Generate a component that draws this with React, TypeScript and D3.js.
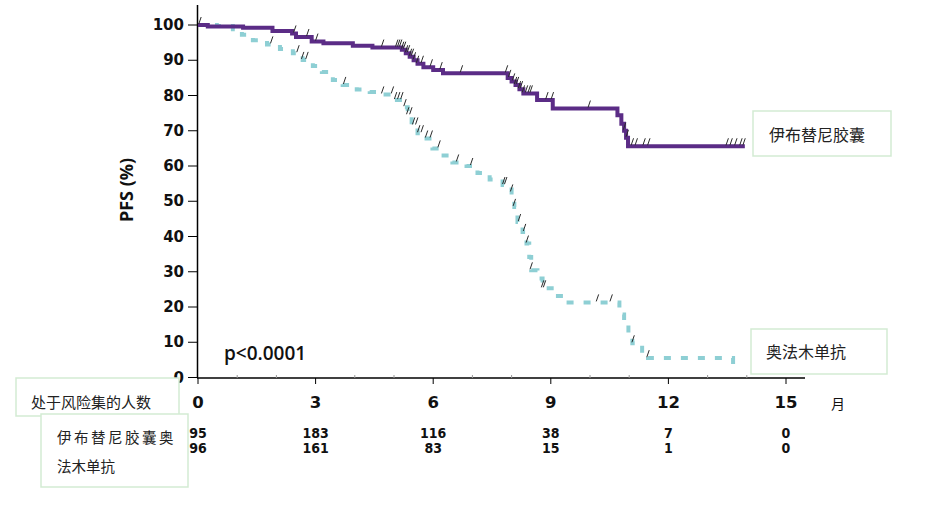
import React from "react";
import * as d3 from "d3";

// Kaplan-Meier steps: [month, PFS %]
const ibrutinibSteps: [number, number][] = [
  [0, 100], [0.25, 99.6], [1.15, 99.2], [1.9, 98.3], [2.4, 97.6], [2.5, 96.6], [2.9, 95.3],
  [3.2, 94.8], [3.95, 94.1], [4.45, 93.6], [5.2, 93.0], [5.3, 92.0], [5.4, 91.0], [5.5, 90.0],
  [5.6, 89.0], [5.75, 88.0], [6.0, 87.2], [6.25, 86.3], [7.9, 85.0], [8.0, 84.0], [8.1, 83.0],
  [8.2, 81.8], [8.3, 80.6], [8.65, 78.7], [9.05, 76.3], [10.7, 74.4], [10.8, 72.0], [10.87, 70.0],
  [10.92, 68.0], [10.97, 65.6], [13.95, 65.6],
];
const ofatumumabSteps: [number, number][] = [
  [0, 100], [0.48, 99.7], [0.89, 98.8], [1.12, 97.2], [1.4, 95.7], [1.76, 94.5], [2.09, 93.2],
  [2.42, 92.0], [2.67, 90.1], [2.93, 88.4], [3.16, 86.7], [3.44, 84.4], [3.69, 83.0], [4.05, 81.7],
  [4.38, 81.0], [4.71, 80.3], [5.02, 78.7], [5.27, 76.7], [5.35, 74.4], [5.45, 71.5], [5.6, 69.3],
  [5.83, 67.8], [5.98, 65.0], [6.16, 63.0], [6.49, 61.0], [6.85, 60.0], [7.13, 58.0], [7.44, 56.2],
  [7.77, 54.6], [8.0, 52.5], [8.07, 48.4], [8.15, 44.1], [8.28, 41.3], [8.38, 38.0], [8.45, 34.2],
  [8.5, 30.4], [8.66, 28.1], [8.79, 25.3], [9.09, 23.1], [9.4, 21.3], [10.75, 17.9], [10.87, 14.8],
  [10.98, 11.6], [11.08, 9.7], [11.33, 6.8], [11.48, 5.5], [13.65, 2.0],
];
// censored observation times (months)
const ibrutinibCensors = [
  0.05, 2.47, 2.8, 3.03, 4.71, 5.07, 5.12, 5.17, 5.22, 5.27, 5.32, 5.37, 5.42, 5.47, 5.52, 5.6,
  5.72, 5.95, 6.2, 6.72, 7.87, 7.95, 8.05, 8.1, 8.15, 8.2, 8.25, 8.3, 8.38, 8.45, 8.5, 8.9, 9.04,
  9.98, 10.88, 10.95, 11.08, 11.18, 11.38, 11.5, 13.5, 13.6, 13.72, 13.85, 13.93,
];
const ofatumumabCensors = [
  1.88, 2.55, 2.67, 2.78, 3.74, 4.71, 4.96, 5.04, 5.12, 5.2, 5.28, 5.35, 5.43, 5.5, 5.58, 5.63,
  5.72, 5.83, 5.95, 6.15, 6.62, 6.98, 7.8, 7.85, 8.0, 8.07, 8.2, 8.33, 8.4, 8.5, 8.79, 8.84,
  10.19, 10.54, 11.1, 11.48,
];
const xTicks = [0, 3, 6, 9, 12, 15];
const yTicks = [0, 10, 20, 30, 40, 50, 60, 70, 80, 90, 100];
const riskIbrutinib = [95, 183, 116, 38, 7, 0];
const riskOfatumumab = [96, 161, 83, 15, 1, 0];

const PURPLE = "#5b2c86";
const TEAL = "#8ecfd4";
const BOX = "#d3ebd3";
const NARROW = "'DejaVu Sans Condensed', 'DejaVu Sans', sans-serif";

function levelAt(steps: [number, number][], t: number) {
  let v = steps[0][1];
  for (const [s, val] of steps) if (s <= t) v = val;
  return v;
}

export default function App() {
  const x = d3.scaleLinear().domain([0, 15]).range([198, 786]);
  const y = d3.scaleLinear().domain([0, 100]).range([377.5, 25]);
  const line = d3
    .line<[number, number]>()
    .x((d) => x(d[0]))
    .y((d) => y(d[1]))
    .curve(d3.curveStepAfter);
  const minor = d3.range(0, 16, 1).filter((m) => m % 3 !== 0);

  const censor = (steps: [number, number][], ts: number[], key: string) =>
    ts.map((t, i) => {
      const cx = x(t);
      const cy = y(levelAt(steps, t));
      return (
        <line key={key + i} x1={cx - 1.2} y1={cy - 1} x2={cx + 1.2} y2={cy - 8} stroke="#2a2a2a" strokeWidth={1} />
      );
    });

  return (
    <svg width={942} height={512} style={{ position: "absolute", left: 0, top: 0, background: "#fff" }}>
      {/* axes */}
      <line x1={197.5} y1={5} x2={197.5} y2={378} stroke="#000" strokeWidth={1.5} />
      <line x1={197} y1={378} x2={805} y2={378} stroke="#000" strokeWidth={1.5} />
      {yTicks.map((v) => (
        <g key={"y" + v}>
          <line x1={188} x2={197} y1={y(v)} y2={y(v)} stroke="#000" strokeWidth={1} />
          <text x={184} y={y(v)} textAnchor="end" dominantBaseline="central" fontFamily="DejaVu Sans" fontWeight="bold" fontSize={15} fill="#111">
            {v}
          </text>
        </g>
      ))}
      {xTicks.map((v, i) => (
        <g key={"x" + v}>
          <line x1={x(v)} x2={x(v)} y1={378} y2={384} stroke="#000" strokeWidth={1} />
          <text x={x(v)} y={402} textAnchor="middle" dominantBaseline="central" fontFamily="DejaVu Sans" fontWeight="bold" fontSize={16.5} fill="#111">
            {v}
          </text>
          <text x={x(v)} y={433} textAnchor="middle" dominantBaseline="central" fontFamily={NARROW} fontWeight="bold" fontSize={14} fill="#111">
            {riskIbrutinib[i]}
          </text>
          <text x={x(v)} y={448} textAnchor="middle" dominantBaseline="central" fontFamily={NARROW} fontWeight="bold" fontSize={14} fill="#111">
            {riskOfatumumab[i]}
          </text>
        </g>
      ))}
      {minor.map((m) => (
        <line key={"m" + m} x1={x(m)} x2={x(m)} y1={375} y2={378} stroke="#999" strokeWidth={1} />
      ))}
      <text x={838} y={403} textAnchor="middle" dominantBaseline="central" fontFamily="'Noto Sans CJK SC'" fontSize={14} fill="#111">
        月
      </text>
      <text transform="translate(126,190) rotate(-90)" textAnchor="middle" dominantBaseline="central" fontFamily="'Open Sans'" fontWeight="bold" fontSize={18} fill="#111">
        PFS (%)
      </text>
      <text x={224} y={353} dominantBaseline="central" fontFamily="'Open Sans'" fontWeight={600} fontSize={19} fill="#111">
        p&lt;0.0001
      </text>

      {/* curves */}
      <path d={line(ofatumumabSteps) || ""} fill="none" stroke={TEAL} strokeWidth={4} strokeDasharray="7 10" />
      <path d={line(ibrutinibSteps) || ""} fill="none" stroke={PURPLE} strokeWidth={4} />
      {censor(ofatumumabSteps, ofatumumabCensors, "oc")}
      {censor(ibrutinibSteps, ibrutinibCensors, "ic")}

      {/* legend boxes */}
      <rect x={753} y={111} width={138} height={45} fill="#fff" stroke={BOX} strokeWidth={1.5} />
      <text x={769} y={134} dominantBaseline="central" fontFamily="'Noto Sans CJK SC'" fontSize={16} fill="#222">
        伊布替尼胶囊
      </text>
      <rect x={751} y={329} width={136} height={45} fill="#fff" stroke={BOX} strokeWidth={1.5} />
      <text x={766} y={351} dominantBaseline="central" fontFamily="'Noto Sans CJK SC'" fontSize={16} fill="#222">
        奥法木单抗
      </text>
      <rect x={16} y={378} width={163} height={38} fill="#fff" stroke={BOX} strokeWidth={1.5} />
      <text x={31} y={401} dominantBaseline="central" fontFamily="'Noto Sans CJK SC'" fontSize={15} fill="#222">
        处于风险集的人数
      </text>
      <rect x={41} y={414} width={147} height={73} fill="#fff" stroke={BOX} strokeWidth={1.5} />
      <text x={57} y={436} dominantBaseline="central" fontFamily="'Noto Sans CJK SC'" fontSize={14.5} letterSpacing={2.5} fill="#222">
        伊布替尼胶囊奥
      </text>
      <text x={57} y={465} dominantBaseline="central" fontFamily="'Noto Sans CJK SC'" fontSize={14.5} fill="#222">
        法木单抗
      </text>
    </svg>
  );
}
